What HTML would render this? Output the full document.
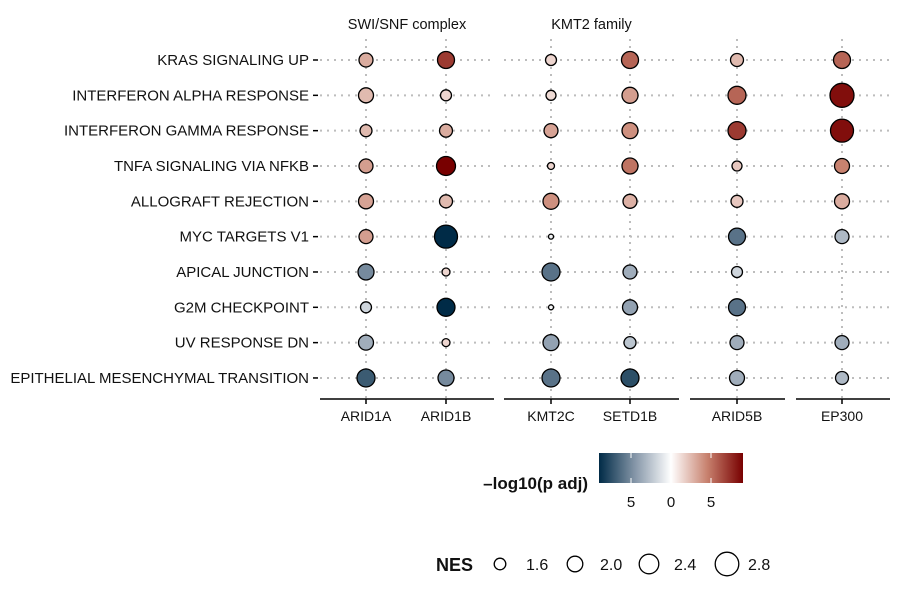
<!DOCTYPE html>
<html><head><meta charset="utf-8"><style>
body{margin:0;background:#fff;}
svg{display:block;font-family:"Liberation Sans",Arial,sans-serif;}
</style></head><body>
<svg id="chart" width="900" height="598" viewBox="0 0 900 598">
<defs>
<linearGradient id="grad" x1="0" x2="1" y1="0" y2="0">
<stop offset="0" stop-color="#002b47"/><stop offset="0.25" stop-color="#8596a8"/><stop offset="0.5" stop-color="#ffffff"/><stop offset="0.75" stop-color="#c8826f"/><stop offset="1" stop-color="#780000"/>
</linearGradient>
</defs>
<g id="grid"></g>
<g id="points"></g>
<g id="axes"></g>
<g id="legend"></g>
</svg>
<script>
const pathways = ["KRAS SIGNALING UP","INTERFERON ALPHA RESPONSE","INTERFERON GAMMA RESPONSE","TNFA SIGNALING VIA NFKB","ALLOGRAFT REJECTION","MYC TARGETS V1","APICAL JUNCTION","G2M CHECKPOINT","UV RESPONSE DN","EPITHELIAL MESENCHYMAL TRANSITION"];
const genes = ["ARID1A","ARID1B","KMT2C","SETD1B","ARID5B","EP300"];
const groups = ["SWI/SNF complex","KMT2 family","",""];
const nesARID1A = [2.0,2.1,1.8,2.0,2.1,2.0,2.2,1.7,2.1,2.4];
const nesARID1B = [2.3,1.7,1.9,2.5,1.9,2.9,1.4,2.4,1.4,2.2];
const nesKMT2C  = [1.7,1.6,2.0,1.3,2.2,1.1,2.4,1.1,2.2,2.4];
const nesSETD1B = [2.3,2.2,2.2,2.2,2.0,null,2.0,2.1,1.8,2.4];
const nesARID5B = [1.9,2.4,2.4,1.6,1.8,2.3,1.7,2.3,2.0,2.1];
const nesEP300  = [2.3,3.0,2.9,2.1,2.1,2.0,null,null,2.0,1.9];
const pARID1A = [3,2.5,2.5,3.5,3.3,3.5,-5,-1.8,-3.5,-7];
const pARID1B = [7,1.5,3,9,2.5,-9,1.5,-9,1.5,-5];
const pKMT2C  = [1.5,1.3,3.3,1.5,4,-0.5,-6,-0.3,-4,-6];
const pSETD1B = [5.5,3.5,4,5,2.8,null,-3.5,-4,-2.5,-7.5];
const pARID5B = [2.5,5.5,7,2,2,-6,-1.8,-6,-3.5,-3.5];
const pEP300  = [5.5,8.5,8.5,4.5,3,-3,null,null,-3.5,-3];
const nesSeries = [nesARID1A,nesARID1B,nesKMT2C,nesSETD1B,nesARID5B,nesEP300];
const pSeries = [pARID1A,pARID1B,pKMT2C,pSETD1B,pARID5B,pEP300];
const colorTicks = [-5,0,5];
const colorTickLabels = ["5","0","5"];
const sizeBreaks = [1.6,2.0,2.4,2.8];
const sizeLabels = ["1.6","2.0","2.4","2.8"];

const NS="http://www.w3.org/2000/svg";
function mk(tag,attrs,parent){const e=document.createElementNS(NS,tag);for(const k in attrs)e.setAttribute(k,attrs[k]);parent.appendChild(e);return e;}
const panels=[{x0:320,x1:494,g:[0,1]},{x0:504,x1:679,g:[2,3]},{x0:690,x1:785,g:[4]},{x0:796,x1:890,g:[5]}];
const colX=[366,446,551,630,737,842];
const yTop=39,yBot=399;
function yScale(i){return 60+i*35.33;}
function rScale(n){return 5+(n-1.6)*5;}
function mix(a,b,t){return [0,1,2].map(k=>Math.round(a[k]+(b[k]-a[k])*t));}
function colorScale(v){
  let t=Math.max(-1,Math.min(1,v/9));
  const W=[255,255,255];
  const stops=t<0?[W,[133,150,168],[0,43,71]]:[W,[200,130,111],[120,0,0]];
  const a=Math.abs(t);
  const c=a<0.5?mix(stops[0],stops[1],a/0.5):mix(stops[1],stops[2],(a-0.5)/0.5);
  return `rgb(${c[0]},${c[1]},${c[2]})`;
}
const grid=document.getElementById('grid'),pts=document.getElementById('points'),ax=document.getElementById('axes'),lg=document.getElementById('legend');
panels.forEach((p,pi)=>{
  pathways.forEach((pw,i)=>{
    const l=mk('line',{x1:p.x0,x2:p.x1,y1:yScale(i),y2:yScale(i),stroke:'#bdbdbd','stroke-width':2,'stroke-dasharray':'2,5'},grid);
    
    
  });
  p.g.forEach(gi=>{
    const l=mk('line',{x1:colX[gi],x2:colX[gi],y1:yTop,y2:yBot,stroke:'#bdbdbd','stroke-width':2,'stroke-dasharray':'2,5'},grid);
    
    
    const t=mk('line',{x1:colX[gi],x2:colX[gi],y1:399,y2:404,stroke:'#000','stroke-width':1.5},ax);
    
    
    const tx=mk('text',{x:colX[gi],y:421,'text-anchor':'middle','font-size':14,fill:'#111'},ax);
    tx.textContent=genes[gi];
    
    
  });
  const a=mk('line',{x1:p.x0,x2:p.x1,y1:399,y2:399,stroke:'#000','stroke-width':1.5},ax);
  
  
  if(groups[pi]){
    const s=mk('text',{x:(p.x0+p.x1)/2,y:29,'text-anchor':'middle','font-size':14.5,fill:'#111'},ax);
    s.textContent=groups[pi];
    
    
  }
});
pathways.forEach((pw,i)=>{
  const t=mk('text',{x:309,y:yScale(i)+5,'text-anchor':'end','font-size':15,fill:'#111'},ax);
  t.textContent=pw;
  
  
  const k=mk('line',{x1:313,x2:318,y1:yScale(i),y2:yScale(i),stroke:'#000','stroke-width':1.5},ax);
  
  
});
genes.forEach((g,gi)=>{
  pathways.forEach((pw,i)=>{
    const n=nesSeries[gi][i],v=pSeries[gi][i];
    if(n==null||v==null)return;
    const c=mk('circle',{cx:colX[gi],cy:yScale(i),r:rScale(n),fill:colorScale(v),stroke:'#000','stroke-width':1.3},pts);
    
    
  });
});
function cx(v){return 671+v*8;}
const tt=mk('text',{x:588,y:489,'text-anchor':'end','font-size':17,'font-weight':'bold',fill:'#111'},lg);
tt.textContent='–log10(p adj)';


const bar=mk('rect',{x:599,y:453,width:144,height:30,fill:'url(#grad)'},lg);


colorTicks.forEach((v,i)=>{
  const l=mk('line',{x1:cx(v),x2:cx(v),y1:453,y2:458,stroke:'#fff','stroke-width':1},lg);
  
  
  const l2=mk('line',{x1:cx(v),x2:cx(v),y1:478,y2:483,stroke:'#fff','stroke-width':1},lg);
  
  
  const t=mk('text',{x:cx(v),y:507,'text-anchor':'middle','font-size':15,fill:'#111'},lg);
  t.textContent=colorTickLabels[i];
  
  
});
const st=mk('text',{x:436,y:571,'font-size':18,'font-weight':'bold',fill:'#111'},lg);
st.textContent='NES';


const sx=[500,575,649,727];
const lx=[526,600,674,748];
sizeBreaks.forEach((b,i)=>{
  const c=mk('circle',{cx:sx[i],cy:564,r:rScale(b)+0.8,fill:'none',stroke:'#000','stroke-width':1.3},lg);
  
  
  const t=mk('text',{x:lx[i],y:570,'font-size':16,fill:'#111'},lg);
  t.textContent=sizeLabels[i];
  
  
});
</script>
</body></html>
